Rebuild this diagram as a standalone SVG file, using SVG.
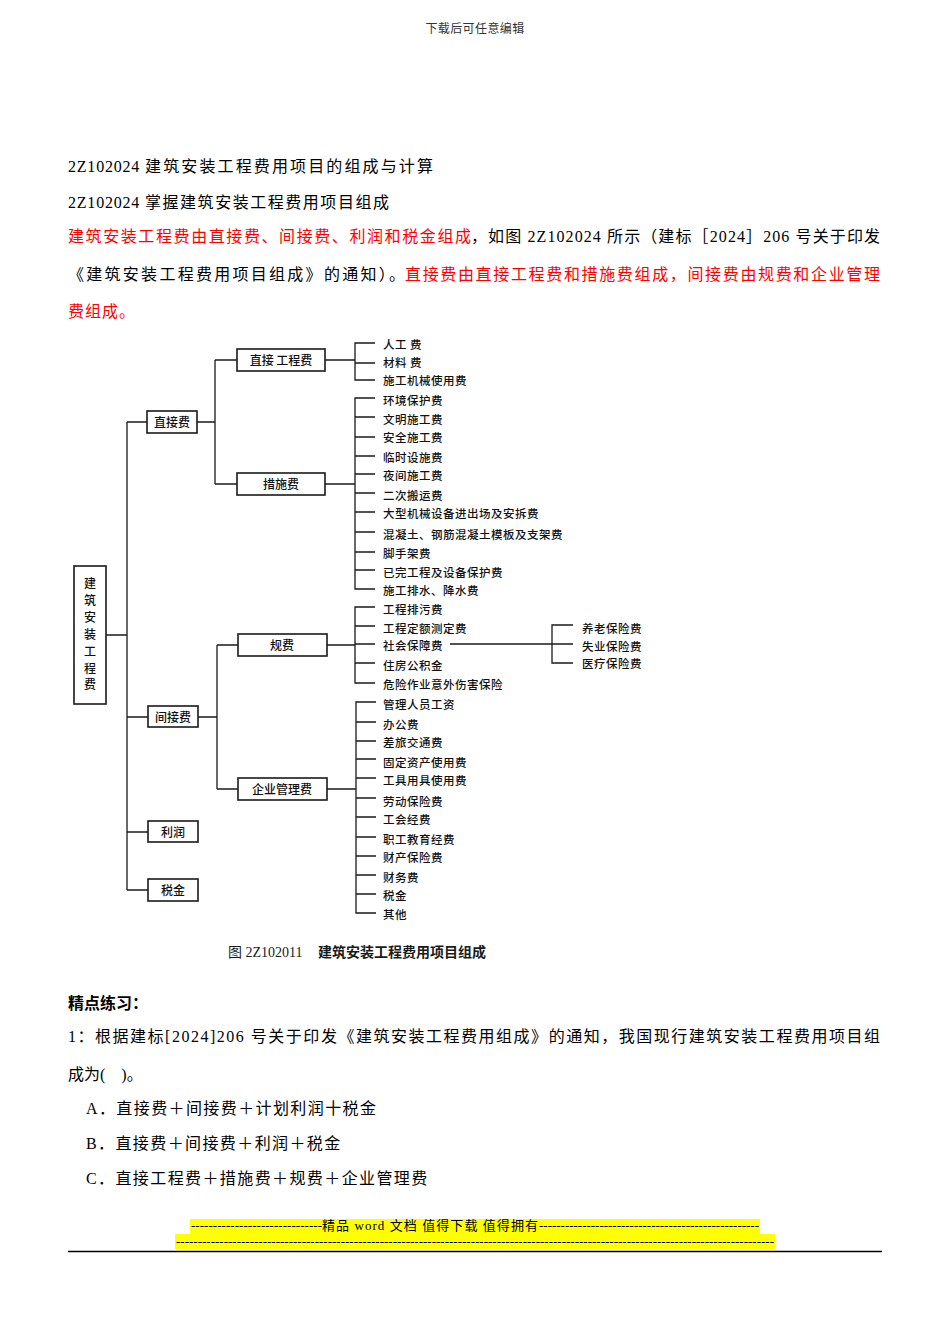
<svg xmlns="http://www.w3.org/2000/svg" width="950" height="1344" viewBox="0 0 950 1344">
<style>
.t{font-family:"Liberation Serif","Noto Sans CJK SC",serif;font-size:16px;fill:#000}
.red{fill:#f00}
.opt{letter-spacing:1.4px}
.hdr{font-family:"Liberation Serif","Noto Sans CJK SC",serif;font-size:12px;letter-spacing:0.4px;fill:#333}
.box{fill:#fff;stroke:#1a1a1a;stroke-width:1.6}
.ln{stroke:#1a1a1a;stroke-width:1.3;fill:none}
.lf{font-family:"Noto Sans CJK SC",sans-serif;font-size:11.5px;font-weight:500;letter-spacing:0.5px;fill:#111}
.bl{font-family:"Noto Sans CJK SC",sans-serif;font-size:12px;font-weight:500;fill:#111;text-anchor:middle}
.cap{font-family:"Liberation Serif","Noto Sans CJK SC",serif;font-size:14px;fill:#1a1a1a}
.ft{font-family:"Liberation Serif","Noto Sans CJK SC",serif;font-size:13px;fill:#000}
.hl{fill:#ffff00}
</style>
<rect width="950" height="1344" fill="#fff"/>
<text class="hdr" x="475" y="33" text-anchor="middle">下载后可任意编辑</text>

<g id="intro">
<text class="t" x="68" y="172" letter-spacing="0.8">2Z102024</text>
<text class="t" x="145" y="172" textLength="288" lengthAdjust="spacing">建筑安装工程费用项目的组成与计算</text>
<text class="t" x="68" y="208" letter-spacing="0.8">2Z102024</text>
<text class="t" x="145" y="208" textLength="244" lengthAdjust="spacing">掌握建筑安装工程费用项目组成</text>
<text class="t red" x="68" y="242" textLength="403" lengthAdjust="spacing">建筑安装工程费由直接费、间接费、利润和税金组成</text>
<text class="t" x="471" y="242" textLength="409" lengthAdjust="spacing">，如图 2Z102024 所示（建标［2024］206 号关于印发</text>
<text class="t" x="68" y="280" textLength="337" lengthAdjust="spacing">《建筑安装工程费用项目组成》的通知）。</text>
<text class="t red" x="405" y="280" textLength="475" lengthAdjust="spacing">直接费由直接工程费和措施费组成，间接费由规费和企业管理</text>
<text class="t red" x="68" y="317" letter-spacing="1">费组成。</text>
</g>

<g id="connectors">
<path class="ln" d="M106 635H127M127 422V890M127 422H147M127 717H148M127 832H148M127 890H148"/>
<path class="ln" d="M197 422H215M215 360V484M215 360H237M215 484H237"/>
<path class="ln" d="M325 360H355M375 343H355V380H375M355 363H375"/>
<path class="ln" d="M325 484H355M375 398H355V589H375M355 417H375M355 437H375M355 456H375M355 474H375M355 493H375M355 512H375M355 532H375M355 552H375M355 570H375"/>
<path class="ln" d="M198 717H217M217 645V789M217 645H238M217 789H238"/>
<path class="ln" d="M327 645H355M375 607H355V683H375M355 626H375M355 644H375M355 663H375"/>
<path class="ln" d="M450 644H552M573 625H552V663H573M552 644H573"/>
<path class="ln" d="M327 789H356M376 702H356V913H376M356 722H376M356 741H376M356 759H376M356 778H376M356 798H376M356 817H376M356 837H376M356 856H376M356 875H376M356 894H376"/>
</g>

<g id="root">
<rect class="box" x="74" y="566" width="32" height="138"/>
<text class="bl"><tspan x="90" y="588">建</tspan><tspan x="90" y="605">筑</tspan><tspan x="90" y="622">安</tspan><tspan x="90" y="639">装</tspan><tspan x="90" y="656">工</tspan><tspan x="90" y="673">程</tspan><tspan x="90" y="689">费</tspan></text>
</g>
<g id="zhijiefei"><rect class="box" x="147" y="411" width="50" height="22"/><text class="bl" x="172" y="426.5">直接费</text></g>
<g id="jianjiefei"><rect class="box" x="148" y="706" width="50" height="21"/><text class="bl" x="173" y="721.5">间接费</text></g>
<g id="lirun"><rect class="box" x="148" y="821" width="50" height="21"/><text class="bl" x="173" y="836.5">利润</text></g>
<g id="shuijin"><rect class="box" x="148" y="879" width="50" height="22"/><text class="bl" x="173" y="894.5">税金</text></g>
<g id="zhijiegongchengfei"><rect class="box" x="237" y="349" width="88" height="22"/><text class="bl" x="281" y="364.5" xml:space="preserve">直接 工程费</text></g>
<g id="cuoshifei"><rect class="box" x="237" y="473" width="88" height="22"/><text class="bl" x="281" y="488.5">措施费</text></g>
<g id="guifei"><rect class="box" x="238" y="634" width="89" height="22"/><text class="bl" x="282" y="649.5">规费</text></g>
<g id="qiyeguanlifei"><rect class="box" x="238" y="778" width="89" height="22"/><text class="bl" x="282" y="793.5">企业管理费</text></g>

<g id="leaf-rengong"><text class="lf" x="383" y="349" xml:space="preserve">人工 费</text></g>
<g id="leaf-cailiao"><text class="lf" x="383" y="367" xml:space="preserve">材料 费</text></g>
<g id="leaf-jixie"><text class="lf" x="383" y="385">施工机械使用费</text></g>
<g id="leaf-huanjing"><text class="lf" x="383" y="405">环境保护费</text></g>
<g id="leaf-wenming"><text class="lf" x="383" y="424">文明施工费</text></g>
<g id="leaf-anquan"><text class="lf" x="383" y="442">安全施工费</text></g>
<g id="leaf-linshi"><text class="lf" x="383" y="462">临时设施费</text></g>
<g id="leaf-yejian"><text class="lf" x="383" y="480">夜间施工费</text></g>
<g id="leaf-erci"><text class="lf" x="383" y="500">二次搬运费</text></g>
<g id="leaf-daxing"><text class="lf" x="383" y="518">大型机械设备进出场及安拆费</text></g>
<g id="leaf-hunningtu"><text class="lf" x="383" y="539">混凝土、钢筋混凝土模板及支架费</text></g>
<g id="leaf-jiaoshou"><text class="lf" x="383" y="558">脚手架费</text></g>
<g id="leaf-yiwan"><text class="lf" x="383" y="577">已完工程及设备保护费</text></g>
<g id="leaf-paishui"><text class="lf" x="383" y="595">施工排水、降水费</text></g>
<g id="leaf-paiwu"><text class="lf" x="383" y="614">工程排污费</text></g>
<g id="leaf-ding-e"><text class="lf" x="383" y="633">工程定额测定费</text></g>
<g id="leaf-shebao"><text class="lf" x="383" y="650">社会保障费</text></g>
<g id="leaf-zhufang"><text class="lf" x="383" y="670">住房公积金</text></g>
<g id="leaf-weixian"><text class="lf" x="383" y="689">危险作业意外伤害保险</text></g>
<g id="leaf-yanglao"><text class="lf" x="582" y="633">养老保险费</text></g>
<g id="leaf-shiye"><text class="lf" x="582" y="651">失业保险费</text></g>
<g id="leaf-yiliao"><text class="lf" x="582" y="668">医疗保险费</text></g>
<g id="leaf-guanli"><text class="lf" x="383" y="709">管理人员工资</text></g>
<g id="leaf-bangong"><text class="lf" x="383" y="729">办公费</text></g>
<g id="leaf-chailv"><text class="lf" x="383" y="747">差旅交通费</text></g>
<g id="leaf-guding"><text class="lf" x="383" y="767">固定资产使用费</text></g>
<g id="leaf-gongju"><text class="lf" x="383" y="785">工具用具使用费</text></g>
<g id="leaf-laodong"><text class="lf" x="383" y="806">劳动保险费</text></g>
<g id="leaf-gonghui"><text class="lf" x="383" y="824">工会经费</text></g>
<g id="leaf-jiaoyu"><text class="lf" x="383" y="844">职工教育经费</text></g>
<g id="leaf-caichan"><text class="lf" x="383" y="862">财产保险费</text></g>
<g id="leaf-caiwu"><text class="lf" x="383" y="882">财务费</text></g>
<g id="leaf-shuijin2"><text class="lf" x="383" y="900">税金</text></g>
<g id="leaf-qita"><text class="lf" x="383" y="919">其他</text></g>

<g id="caption">
<text class="cap" x="228" y="957">图 2Z102011</text>
<text class="cap" x="318" y="957" font-weight="bold">建筑安装工程费用项目组成</text>
</g>

<g id="exercise">
<text class="t" x="68" y="1009" font-weight="bold">精点练习：</text>
<text class="t" x="68" y="1042" textLength="812" lengthAdjust="spacing">1：根据建标[2024]206 号关于印发《建筑安装工程费用组成》的通知，我国现行建筑安装工程费用项目组</text>
<text class="t" x="68" y="1080" xml:space="preserve">成为(    )。</text>
<text class="t opt" x="86" y="1114">A．直接费＋间接费＋计划利润十税金</text>
<text class="t opt" x="86" y="1149">B．直接费＋间接费＋利润＋税金</text>
<text class="t opt" x="86" y="1184">C．直接工程费＋措施费＋规费＋企业管理费</text>
</g>

<g id="footer">
<rect class="hl" x="190" y="1219" width="570" height="15"/>
<rect class="hl" x="175" y="1234" width="600" height="15"/>
<text class="ft" x="191" y="1230" textLength="131" lengthAdjust="spacing">------------------------------</text>
<text class="ft" x="322" y="1230" textLength="216" lengthAdjust="spacing">精品 word 文档 值得下载 值得拥有</text>
<text class="ft" x="539" y="1230" textLength="220" lengthAdjust="spacing">---------------------------------------------------</text>
<text class="ft" x="176" y="1246" textLength="598" lengthAdjust="spacing">------------------------------------------------------------------------------------------------------------------------------------------</text>
<line x1="68" y1="1251.5" x2="882" y2="1251.5" stroke="#000" stroke-width="1.5"/>
</g>
</svg>
